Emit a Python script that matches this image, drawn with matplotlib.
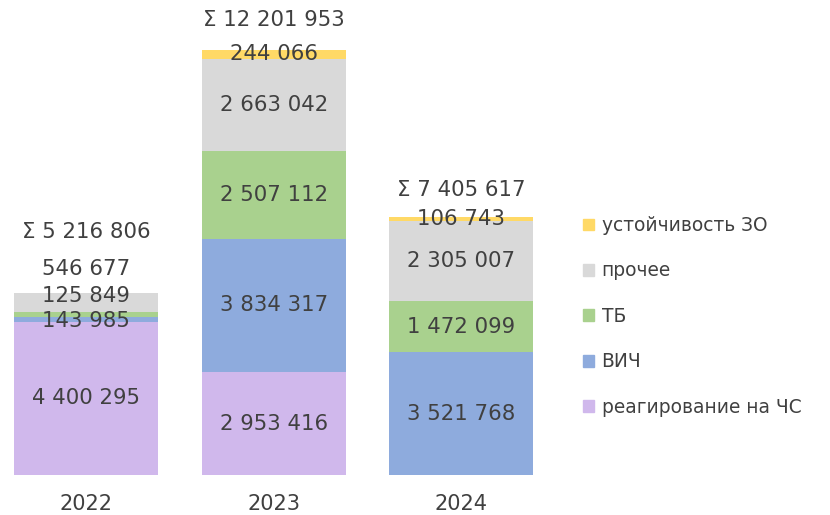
import matplotlib
matplotlib.use("Agg")
import matplotlib.pyplot as plt
from matplotlib.patches import Patch

years = ["2022", "2023", "2024"]
series_names = ["реагирование на ЧС", "ВИЧ", "ТБ", "прочее", "устойчивость ЗО"]
reag = [4400295, 2953416, 0]
vich = [143985, 3834317, 3521768]
tb = [125849, 2507112, 1472099]
proch = [546677, 2663042, 2305007]
ustoich = [0, 244066, 106743]

colors = ["#D0B8EC", "#8EABDD", "#A9D18E", "#D9D9D9", "#FFD966"]
txt = "#404040"

values = [reag, vich, tb, proch, ustoich]

# label offsets in points (vertical), for crowded segments
label_dy = {(0, 3): 24.5, (0, 2): 13.5, (0, 1): -1}
sum_dy = {0: 44, 1: 21.5, 2: 19.5}

fig = plt.figure(figsize=(8.3, 5.15), dpi=100)
ax = fig.add_axes([0, 40 / 515, 560 / 830, 470 / 515])
x = list(range(len(years)))
bottoms = [0] * len(years)
for si, (name, vals, c) in enumerate(zip(series_names, values, colors)):
    ax.bar(x, vals, width=0.767, bottom=bottoms, color=c, label=name)
    for i, v in enumerate(vals):
        if v > 0:
            ax.annotate(f"{v:,}".replace(",", " "), (x[i], bottoms[i] + v / 2),
                        xytext=(0, label_dy.get((i, si), 0)), textcoords="offset points",
                        ha="center", va="center", fontsize=15.3, color=txt)
    bottoms = [b + v for b, v in zip(bottoms, vals)]

for i, tot in enumerate(bottoms):
    ax.annotate("Σ " + f"{tot:,}".replace(",", " "), (x[i], tot),
                xytext=(0, sum_dy[i]), textcoords="offset points",
                ha="center", va="center", fontsize=15.3, color=txt)

ax.set_xlim(-0.458, 2.525)
ax.set_ylim(0, 13.5e6)
ax.set_xticks(x)
ax.set_xticklabels(years, fontsize=15, color=txt)
ax.tick_params(axis="x", length=0, pad=14)
ax.set_yticks([])
for s in ax.spines.values():
    s.set_visible(False)

handles = [Patch(color=c) for c in colors][::-1]
labels = series_names[::-1]
fig.legend(handles, labels, loc="upper left", bbox_to_anchor=(583 / 830, 1 - 216 / 515),
           frameon=False, fontsize=13.4, labelcolor=txt, handlelength=0.6, handleheight=0.6,
           handletextpad=0.4, labelspacing=1.42, borderaxespad=0, borderpad=0)

fig.savefig("out.png", dpi=100)
